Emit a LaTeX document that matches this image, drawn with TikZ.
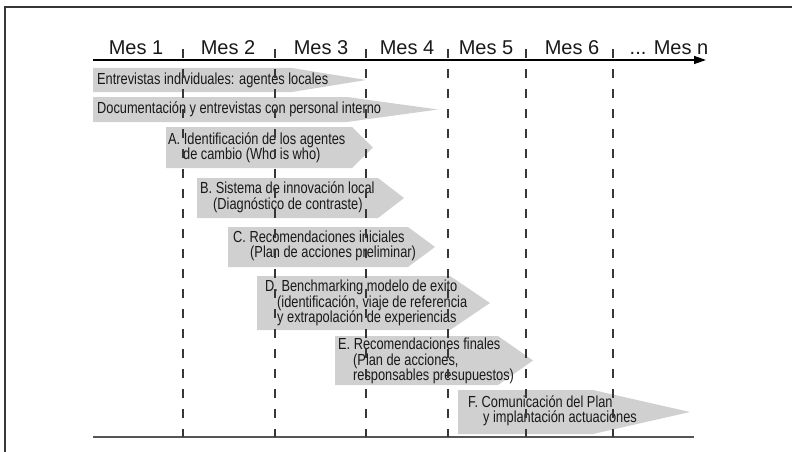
\documentclass[tikz,border=0pt]{standalone}
\usepackage{fontspec}
\setmainfont{Liberation Sans}
\newfontfamily\estrecha[FakeStretch=0.8]{Liberation Sans}
\usetikzlibrary{arrows.meta,positioning}
\definecolor{grisfase}{RGB}{208,208,208}
\definecolor{grislinea}{RGB}{55,55,55}

\tikzset{
  fase/.style={fill=grisfase, draw=none},
  etiqueta/.style={font=\estrecha\fontsize{16}{15.5}\selectfont, text=black!90, align=left, anchor=west, inner sep=0pt},
  mes/.style={font=\fontsize{20}{20}\selectfont, text=black!90, anchor=base, inner sep=0pt},
  division/.style={grislinea, line width=1.1pt, dash pattern=on 9pt off 11pt},
}

\begin{document}
\begin{tikzpicture}[x=1pt,y=-1pt]
\useasboundingbox (0,0) rectangle (792,452);
% marco
\draw[grislinea, line width=1.2pt] (5,460) -- (5,7) -- (800,7);
% fases
\foreach \xl/\yt/\yb/\xb/\xt in {93/68/92/292/366, 93/97/122/347/438, 166/127/168/352/373, 197/178/218/378/404, 228/227/267/408/435, 257/276/330/450/490, 335/336/385/498/533, 458/390/434/593/690}
  \fill[fase] (\xl,\yt) -- (\xb,\yt) -- (\xt,{(\yt+\yb)/2}) -- (\xb,\yb) -- (\xl,\yb) -- cycle;

% textos de las fases
\node[etiqueta] (entrevistas) at (97,80) {Entrevistas individuales: agentes locales};
\node[etiqueta] (documentacion) at (97,109.5) {Documentación y entrevistas con personal interno};
\node[etiqueta] (faseA) at (168,148) {A. Identificación de los agentes\\\hspace*{15pt}de cambio (Who is who)};
\node[etiqueta] (faseB) at (200,197.5) {B. Sistema de innovación local\\\hspace*{13pt}(Diagnóstico de contraste)};
\node[etiqueta] (faseC) at (233,246) {C. Recomendaciones iniciales\\\hspace*{17pt}(Plan de acciones preliminar)};
\node[etiqueta] (faseD) at (265,303) {D. Benchmarking modelo de exito\\\hspace*{12pt}(identificación, viaje de referencia\\\hspace*{12pt}y extrapolación de experiencias};
\node[etiqueta] (faseE) at (338,361) {E. Recomendaciones finales\\\hspace*{15pt}(Plan de acciones,\\\hspace*{15pt}responsables presupuestos)};
\node[etiqueta] (faseF) at (468,411) {F. Comunicación del Plan\\\hspace*{15pt}y implantación actuaciones};

% meses
\foreach \x/\t [count=\i] in {136/Mes 1, 228/Mes 2, 321/Mes 3, 407/Mes 4, 486/Mes 5, 572/Mes 6}
  \node[mes] (mes\i) at (\x,55) {\t};
\node[mes] (mesn) at (669,55) {... Mes n};

% eje y base
\coordinate (ejeini) at (93,60);
\coordinate (ejefin) at (706,60);
\draw[black, line width=1.3pt, -{Triangle[length=12pt,width=8pt]}] (ejeini) -- (ejefin);
\coordinate (baseini) at (93,437);
\coordinate (basefin) at (694,437);
\draw[grislinea!85, line width=1.8pt] (baseini) -- (basefin);

% divisiones entre meses
\foreach \x in {183,275,366,448,526,613}
  \draw[division] (\x,49) -- (\x,437);
\end{tikzpicture}
\end{document}
